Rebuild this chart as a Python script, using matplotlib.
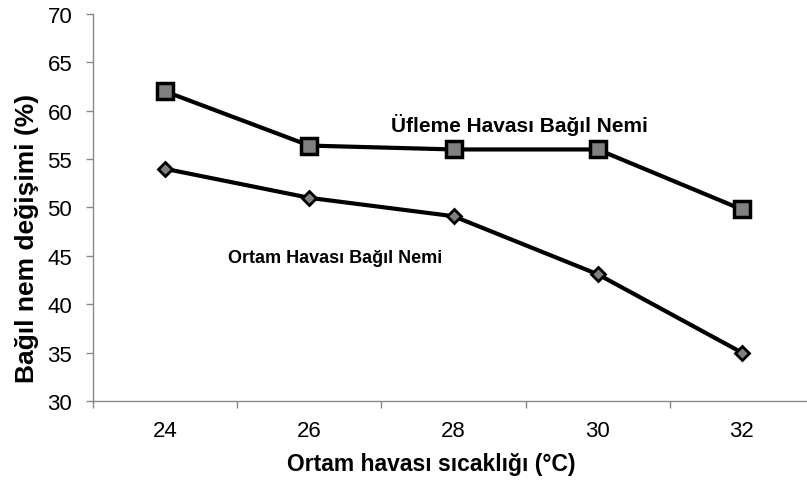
import matplotlib.pyplot as plt

plt.rcParams['font.family'] = ['Liberation Sans', 'DejaVu Sans']

# Data
temps = ['24', '26', '28', '30', '32']
ufleme = [62, 56.4, 56, 56, 49.8]
ortam = [54, 51, 49.1, 43.1, 35]

fig = plt.figure(figsize=(8.07, 4.85), dpi=100)
ax = fig.add_axes([93 / 807, 1 - 402 / 485, (814 - 93) / 807, (402 - 15) / 485])

x = list(range(len(temps)))
ax.plot(x, ufleme, color='black', lw=3, marker='s', markersize=11,
        markerfacecolor='#808080', markeredgecolor='black', markeredgewidth=2.5, zorder=3)
ax.plot(x, ortam, color='black', lw=3, marker='D', markersize=7,
        markerfacecolor='#808080', markeredgecolor='black', markeredgewidth=2, zorder=3)

ax.set_xlim(-0.5, 4.5)
ax.set_ylim(30, 70)
ax.set_yticks(range(30, 71, 5))
ax.set_xticks(x)
ax.set_xticklabels(temps)
ax.set_xticks([i - 0.5 for i in range(6)], minor=True)
ax.tick_params(axis='x', which='major', length=0, labelsize=16, pad=14)
ax.tick_params(axis='x', which='minor', length=5, color='#888888', width=1, direction='out')
ax.tick_params(axis='y', length=5, color='#888888', width=1, labelsize=16, pad=10)

for s in ['top', 'right']:
    ax.spines[s].set_visible(False)
for s in ['left', 'bottom']:
    ax.spines[s].set_color('#888888')
    ax.spines[s].set_linewidth(1)

ax.set_xlabel('Ortam havası sıcaklığı (°C)', fontsize=16.5, fontweight='bold')
ax.xaxis.set_label_coords((431 - 93) / (814 - 93), -(453 - 402) / (402 - 15))
fig.text(27 / 807, 1 - 238 / 485, 'Bağıl nem değişimi (%)', fontsize=19, fontweight='bold',
         rotation=90, ha='center', va='center')

ax.text(2.46, 58.6, 'Üfleme Havası Bağıl Nemi', fontsize=15, fontweight='bold', ha='center', va='center')
ax.text(1.18, 44.8, 'Ortam Havası Bağıl Nemi', fontsize=13, fontweight='bold', ha='center', va='center')

fig.savefig('out.png', dpi=100)
